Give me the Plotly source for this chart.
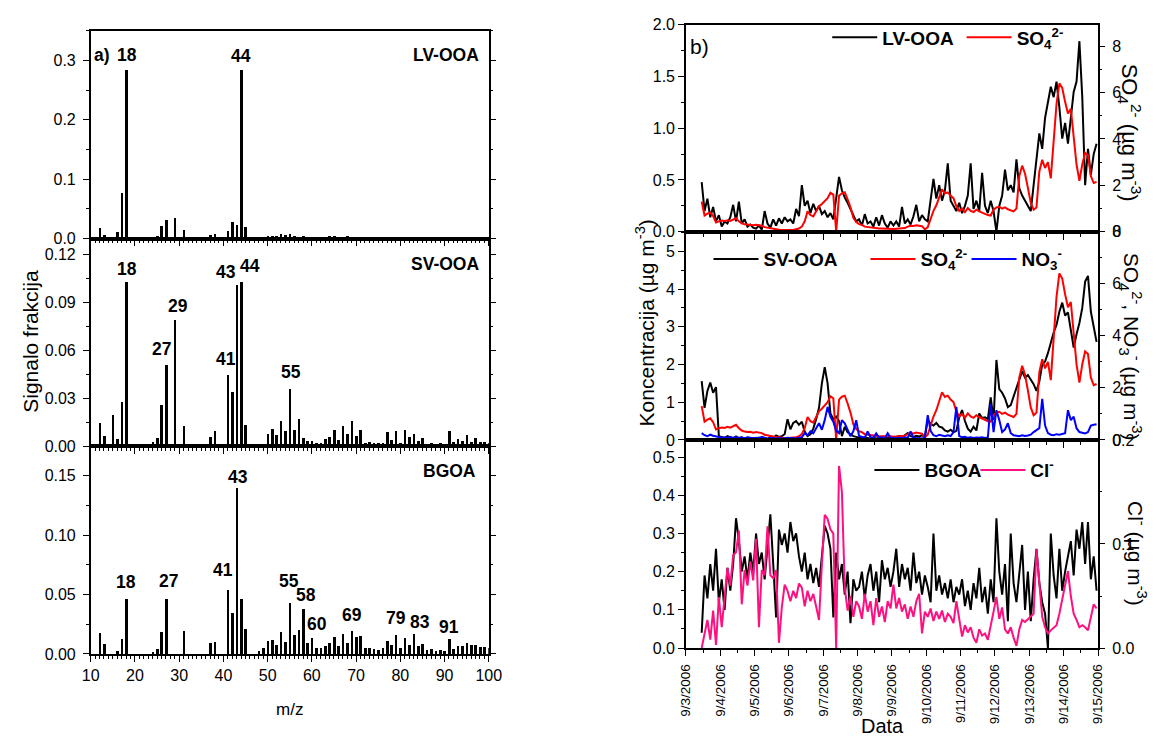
import plotly.graph_objects as go
import pandas as pd

W, H = 1163, 744
FONT = "Arial, Liberation Sans, sans-serif"

# ---------------- mass spectra (m/z 12..100) ----------------
mz = list(range(12, 101))
lv_ooa_ms = [0.018, 0.007, 0, 0, 0.012, 0.077, 0.284, 0, 0, 0,
             0, 0, 0.003, 0.004, 0.021, 0.031, 0, 0.035, 0.001, 0.015,
             0, 0, 0, 0, 0, 0.006, 0.008, 0, 0, 0.013,
             0.028, 0.023, 0.284, 0.020, 0, 0, 0.001, 0.001, 0.005, 0.005,
             0.005, 0.008, 0.006, 0.009, 0.004, 0.001, 0.004, 0.002, 0.003, 0.002,
             0.001, 0.003, 0.004, 0.004, 0.003, 0.001, 0.004, 0.003, 0.002, 0.001,
             0.001, 0.002, 0.002, 0.001, 0.002, 0.002, 0.002, 0.002, 0.001, 0.002,
             0.001, 0.002, 0.001, 0.001, 0.001, 0.002, 0.002, 0.001, 0.002, 0.002,
             0.001, 0.001, 0.001, 0.001, 0.002, 0.002, 0.002, 0.002, 0.002]
sv_ooa_ms = [0.015, 0.0067, 0, 0.020, 0.0045, 0.028, 0.103, 0, 0, 0,
             0, 0, 0.0027, 0.0055, 0.026, 0.051, 0, 0.079, 0.0016, 0.013,
             0, 0, 0, 0, 0, 0.006, 0.0098, 0, 0, 0.0447,
             0.034, 0.101, 0.103, 0.0135, 0, 0, 0.001, 0.0016, 0.008, 0.011,
             0.007, 0.0157, 0.0094, 0.036, 0.0106, 0.017, 0.0055, 0.0037, 0.0035, 0.0022,
             0.002, 0.0047, 0.006, 0.010, 0.0043, 0.0127, 0.0078, 0.0157, 0.0063, 0.0104,
             0.0024, 0.0029, 0.0024, 0.002, 0.0024, 0.009, 0.0043, 0.0096, 0.0024, 0.010,
             0.006, 0.0075, 0.0035, 0.0055, 0.0018, 0.0022, 0.001, 0.002, 0.001, 0.0096,
             0.003, 0.0045, 0.0035, 0.007, 0.003, 0.005, 0.003, 0.003, 0.002]
bgoa_ms = [0.0179, 0.0085, 0, 0, 0.002, 0.0124, 0.046, 0, 0, 0,
           0, 0, 0.0014, 0.004, 0.0187, 0.046, 0, 0, 0, 0.019,
           0, 0, 0, 0, 0, 0.0088, 0.0096, 0, 0, 0.054,
           0.034, 0.1395, 0.046, 0.0206, 0, 0, 0.0025, 0.0047, 0.011, 0.0118,
           0.0074, 0.018, 0.0099, 0.043, 0.0157, 0.020, 0.038, 0.0094, 0.0132, 0.0047,
           0.005, 0.0063, 0.0094, 0.014, 0.0063, 0.0168, 0.009, 0.019, 0.014, 0.0154,
           0.0047, 0.0047, 0.004, 0.003, 0.005, 0.0107, 0.0074, 0.0157, 0.005, 0.0132,
           0.0077, 0.0165, 0.0069, 0.008, 0.0036, 0.0044, 0.0025, 0.003, 0.0022, 0.0124,
           0.0044, 0.0063, 0.0063, 0.009, 0.0074, 0.0072, 0.0058, 0.0058, 0.005]

lv_peaks = [18, 44]
sv_peaks = [18, 27, 29, 41, 43, 44, 55]
bg_peaks = [18, 27, 41, 43, 55, 58, 60, 69, 79, 83, 91]

# ---------------- time series (2-hourly, from 9/3/2006 11:00) ----------------
ts_start = "2006-09-03 11:00"
lv_ooa_ts = [0.48, 0.20, 0.32, 0.14, 0.24, 0.10, 0.16,
             0.05, 0.10, 0.08, 0.14, 0.26, 0.10, 0.29, 0.08, 0.12, 0.05, 0.07, 0.04,
             0.03, 0.06, 0.02, 0.20, 0.08, 0.04, 0.12, 0.06, 0.13, 0.08, 0.14, 0.10,
             0.12, 0.08, 0.22, 0.15, 0.45, 0.25, 0.30, 0.18, 0.27, 0.20, 0.25, 0.17,
             0.20, 0.14, 0.18, 0.12, 0.35, 0.53, 0.40, 0.33, 0.28, 0.22, 0.15, 0.10,
             0.12, 0.06, 0.17, 0.08, 0.10, 0.05, 0.14, 0.06, 0.16, 0.08, 0.04, 0.10,
             0.06, 0.10, 0.05, 0.24, 0.08, 0.12, 0.07, 0.15, 0.26, 0.10, 0.16, 0.12,
             0.10, 0.30, 0.51, 0.32, 0.45, 0.30, 0.40, 0.66, 0.30, 0.25, 0.20, 0.28,
             0.18, 0.25, 0.35, 0.66, 0.22, 0.30, 0.20, 0.57, 0.25, 0.18, 0.30, 0.20,
             0.00, 0.25, 0.35, 0.60, 0.40, 0.45, 0.38, 0.70, 0.42, 0.35, 0.30, 0.25,
             0.20, 0.45, 0.70, 0.95, 0.80, 1.10, 1.25, 1.40, 1.30, 1.45, 1.20, 0.90,
             1.05, 0.85, 1.10, 1.35, 1.45, 1.84, 1.30, 0.45, 0.80, 0.55, 0.75, 0.85]
so4_ts = [1.30, 0.70, 0.78, 0.83, 0.68, 0.40, 0.45,
          0.48, 0.46, 0.50, 0.47, 0.52, 0.58, 0.45, 0.36, 0.32, 0.30, 0.31, 0.28,
          0.30, 0.28, 0.26, 0.20, 0.17, 0.15, 0.13, 0.11, 0.09, 0.08, 0.07, 0.07,
          0.08, 0.08, 0.10, 0.14, 0.22, 0.45, 0.88, 0.72, 0.66, 0.88, 1.10, 1.20,
          1.32, 1.45, 1.68, 1.60, 0.00, 1.55, 1.66, 1.70, 1.40, 1.05, 0.60, 0.42,
          0.33, 0.30, 0.22, 0.20, 0.18, 0.16, 0.15, 0.14, 0.14, 0.13, 0.14, 0.14,
          0.12, 0.13, 0.14, 0.15, 0.16, 0.22, 0.26, 0.25, 0.28, 0.26, 0.24, 0.10,
          0.20, 0.55, 0.90, 1.14, 1.50, 1.83, 1.65, 1.70, 1.55, 1.45, 1.10, 0.90,
          1.00, 0.85, 1.02, 0.90, 0.85, 0.95, 0.88, 0.82, 0.76, 0.72, 0.70, 0.95,
          1.05, 1.08, 1.00, 1.05, 0.97, 0.92, 0.88, 1.00, 2.40, 2.85, 2.50, 1.90,
          1.25, 0.95, 1.05, 2.60, 3.10, 2.75, 3.00, 2.30, 3.90, 5.50, 6.40, 6.20,
          5.60, 5.10, 5.30, 4.00, 2.90, 2.20, 2.90, 3.40, 3.30, 2.40, 2.10, 2.15]
sv_ooa_ts = [1.56, 0.85, 1.30, 1.52, 1.25, 1.40, 0.10,
             0.08, 0.05, 0.10, 0.06, 0.04, 0.09, 0.05, 0.07, 0.03, 0.06, 0.04, 0.05,
             0.04, 0.06, 0.03, 0.05, 0.02, 0.08, 0.05, 0.12, 0.08, 0.10, 0.15, 0.55,
             0.28, 0.45, 0.50, 0.40, 0.48, 0.22, 0.10, 0.15, 0.30, 0.55, 0.85, 1.50,
             1.93, 1.50, 0.70, 0.55, 0.62, 0.50, 0.10, 0.35, 0.20, 0.15, 0.10, 0.08,
             0.06, 0.04, 0.07, 0.05, 0.03, 0.06, 0.04, 0.05, 0.03, 0.06, 0.05, 0.07,
             0.06, 0.08, 0.10, 0.07, 0.12, 0.18, 0.10, 0.08, 0.11, 0.09, 0.12, 0.08,
             0.53, 0.42, 0.38, 0.45, 0.35, 0.33, 0.25, 0.22, 0.27, 0.20, 0.24, 0.60,
             0.79, 0.50, 0.30, 0.22, 0.35, 0.25, 0.70, 0.58, 0.60, 0.55, 1.13, 0.53,
             2.12, 1.35, 1.25, 1.10, 0.87, 0.92, 1.15, 1.40, 1.60, 1.82, 1.65, 1.72,
             1.60, 1.48, 1.30, 1.55, 2.00, 2.08, 2.30, 2.60, 2.85, 3.05, 3.40, 3.64,
             3.30, 3.38, 2.90, 2.45, 2.80, 3.10, 3.50, 4.20, 4.35, 3.40, 3.00, 2.60]
no3_ts = [0.26, 0.18, 0.14, 0.20, 0.16, 0.14, 0.10,
          0.08, 0.10, 0.07, 0.12, 0.08, 0.10, 0.07, 0.09, 0.06, 0.10, 0.07, 0.06,
          0.08, 0.06, 0.12, 0.07, 0.05, 0.08, 0.06, 0.05, 0.07, 0.05, 0.06, 0.08,
          0.06, 0.07, 0.05, 0.08, 0.10, 0.26, 0.18, 0.33, 0.25, 0.45, 0.64, 0.39,
          0.76, 1.27, 0.89, 0.70, 0.35, 0.26, 0.76, 0.64, 0.35, 0.14, 0.33, 0.76,
          0.15, 0.10, 0.08, 0.33, 0.10, 0.07, 0.25, 0.08, 0.10, 0.06, 0.26, 0.08,
          0.07, 0.06, 0.08, 0.06, 0.10, 0.07, 0.33, 0.08, 0.06, 0.07, 0.05, 0.10,
          0.95, 0.35, 0.18, 0.14, 0.20, 0.16, 0.14, 0.18, 0.15, 0.30, 1.27, 0.15,
          0.10, 0.12, 0.08, 0.10, 0.07, 0.09, 0.08, 0.10, 0.07, 0.09, 1.39, 0.30,
          1.14, 0.76, 0.30, 0.40, 0.64, 0.26, 0.18, 0.16, 0.14, 0.18, 0.15, 0.17,
          0.20, 0.30, 0.39, 0.45, 1.58, 0.55, 0.26, 0.20, 0.18, 0.22, 0.20, 0.24,
          0.26, 1.14, 0.76, 0.89, 0.45, 0.30, 0.28, 0.25, 0.30, 0.55, 0.58, 0.60]
bgoa_ts = [0.04, 0.19, 0.13, 0.22, 0.15, 0.26, 0.12,
           0.18, 0.10, 0.21, 0.15, 0.22, 0.34, 0.28, 0.20, 0.24, 0.18, 0.25, 0.20,
           0.30, 0.22, 0.25, 0.18, 0.26, 0.35, 0.22, 0.08, 0.31, 0.27, 0.30, 0.25,
           0.33, 0.28, 0.30, 0.24, 0.20, 0.25, 0.18, 0.22, 0.17, 0.21, 0.16, 0.24,
           0.32, 0.30, 0.26, 0.08, 0.25, 0.18, 0.22, 0.14, 0.20, 0.065, 0.18, 0.15,
           0.16, 0.20, 0.13, 0.19, 0.22, 0.15, 0.20, 0.12, 0.23, 0.18, 0.21, 0.16,
           0.20, 0.26, 0.16, 0.22, 0.18, 0.21, 0.15, 0.25, 0.17, 0.20, 0.14, 0.19,
           0.16, 0.12, 0.30, 0.15, 0.19, 0.14, 0.17, 0.13, 0.18, 0.12, 0.16, 0.14,
           0.18, 0.11, 0.15, 0.10, 0.17, 0.13, 0.21, 0.12, 0.16, 0.09, 0.18, 0.12,
           0.34, 0.20, 0.14, 0.22, 0.07, 0.30, 0.17, 0.12, 0.20, 0.27, 0.10, 0.20,
           0.07, 0.18, 0.26, 0.17, 0.12, 0.09, 0.00, 0.30, 0.19, 0.13, 0.26, 0.15,
           0.20, 0.24, 0.28, 0.19, 0.31, 0.26, 0.33, 0.22, 0.33, 0.18, 0.24, 0.15]
cl_ts = [0.000, 0.012, 0.027, 0.008, 0.036, 0.003, 0.049,
         0.020, 0.047, 0.077, 0.060, 0.089, 0.092, 0.113, 0.042, 0.075, 0.060, 0.083, 0.065,
         0.105, 0.020, 0.075, 0.070, 0.117, 0.070, 0.067, 0.075, 0.005, 0.039, 0.061, 0.055,
         0.045, 0.055, 0.048, 0.062, 0.058, 0.040, 0.055, 0.045, 0.052, 0.040, 0.027, 0.080,
         0.128, 0.124, 0.114, 0.110, 0.000, 0.175, 0.150, 0.058, 0.036, 0.050, 0.030, 0.045,
         0.040, 0.028, 0.052, 0.035, 0.045, 0.022, 0.048, 0.030, 0.040, 0.025, 0.045, 0.038,
         0.061, 0.038, 0.048, 0.035, 0.042, 0.028, 0.040, 0.030, 0.045, 0.052, 0.014, 0.035,
         0.030, 0.038, 0.026, 0.035, 0.028, 0.036, 0.025, 0.033, 0.030, 0.024, 0.045, 0.028,
         0.011, 0.022, 0.015, 0.020, 0.010, 0.005, 0.018, 0.012, 0.014, 0.008, 0.020, 0.035,
         0.049, 0.028, 0.039, 0.018, 0.014, 0.020, 0.010, 0.002, 0.018, 0.027, 0.025, 0.028,
         0.030, 0.033, 0.095, 0.061, 0.030, 0.020, 0.014, 0.017, 0.020, 0.022, 0.033, 0.048,
         0.060, 0.074, 0.050, 0.033, 0.027, 0.020, 0.022, 0.020, 0.017, 0.030, 0.042, 0.038]
date_labels = ["9/3/2006", "9/4/2006", "9/5/2006", "9/6/2006", "9/7/2006",
               "9/8/2006", "9/9/2006", "9/10/2006", "9/11/2006", "9/12/2006",
               "9/13/2006", "9/14/2006", "9/15/2006"]

t = pd.date_range(ts_start, periods=len(lv_ooa_ts), freq="2h")
day_ticks = pd.date_range("2006-09-03", periods=len(date_labels), freq="D")

# ---------------- figure ----------------
fig = go.Figure()


def fy(py):
    return 1 - py / H


LX = [83.3 / W, 489 / W]
RX = [690 / W, 1110 / W]
left_rows = [(23.3, 236), (236, 448.3), (448.3, 661)]
right_rows = [(17, 229), (229, 442), (442, 655)]

# bars
for i, ys in enumerate([lv_ooa_ms, sv_ooa_ms, bgoa_ms]):
    sfx = "" if i == 0 else str(i + 1)
    fig.add_trace(go.Bar(x=mz, y=ys, width=0.6, marker=dict(color="black", line=dict(width=0)),
                         xaxis="x" + sfx, yaxis="y" + sfx, showlegend=False))

# time series
LW = 2.0
fig.add_trace(go.Scatter(x=t, y=lv_ooa_ts, mode="lines", line=dict(color="black", width=LW),
                         xaxis="x4", yaxis="y4", name="<b>LV-OOA</b>", legend="legend"))
fig.add_trace(go.Scatter(x=t, y=so4_ts, mode="lines", line=dict(color="#ff0000", width=LW),
                         xaxis="x4", yaxis="y7", name="<b>SO<sub>4</sub><sup>2-</sup></b>", legend="legend2"))
fig.add_trace(go.Scatter(x=t, y=sv_ooa_ts, mode="lines", line=dict(color="black", width=LW),
                         xaxis="x5", yaxis="y5", name="<b>SV-OOA</b>", legend="legend3"))
fig.add_trace(go.Scatter(x=t, y=so4_ts, mode="lines", line=dict(color="#ff0000", width=LW),
                         xaxis="x5", yaxis="y8", name="<b>SO<sub>4</sub><sup>2-</sup></b>", legend="legend4"))
fig.add_trace(go.Scatter(x=t, y=no3_ts, mode="lines", line=dict(color="#0000ff", width=LW),
                         xaxis="x5", yaxis="y8", name="<b>NO<sub>3</sub><sup>-</sup></b>", legend="legend5"))
fig.add_trace(go.Scatter(x=t, y=bgoa_ts, mode="lines", line=dict(color="black", width=LW),
                         xaxis="x6", yaxis="y6", name="<b>BGOA</b>", legend="legend6"))
fig.add_trace(go.Scatter(x=t, y=cl_ts, mode="lines", line=dict(color="#ff1080", width=LW),
                         xaxis="x6", yaxis="y9", name="<b>Cl<sup>-</sup></b>", legend="legend7"))

tickfont = dict(family=FONT, size=16, color="black")
base_axis = dict(showgrid=False, zeroline=False, showline=True, linecolor="black", linewidth=1.5,
                 ticks="outside", tickcolor="black", tickwidth=1.2, ticklen=6, tickfont=tickfont)
layout = {}

# left x axes
for i, (top, bot) in enumerate(left_rows):
    sfx = "" if i == 0 else str(i + 1)
    layout["xaxis" + sfx] = dict(base_axis, domain=LX, anchor="y" + sfx, range=[10, 100],
                                 tick0=10, dtick=10, mirror=True, showticklabels=(i == 2),
                                 minor=dict(dtick=1, ticklen=3, ticks="outside", tickcolor="black", tickwidth=1))
ylspec = [([0, 0.35], 0.1, 0.05, ".1f"), ([0, 0.13], 0.03, 0.015, ".2f"), ([0, 0.175], 0.05, 0.025, ".2f")]
for i, (top, bot) in enumerate(left_rows):
    sfx = "" if i == 0 else str(i + 1)
    rng, dt, mn, fmt = ylspec[i]
    layout["yaxis" + sfx] = dict(base_axis, domain=[fy(bot), fy(top)], anchor="x" + sfx, range=rng,
                                 tick0=0, dtick=dt, tickformat=fmt, mirror="allticks", ticklabelstandoff=4,
                                 minor=dict(dtick=mn, ticklen=3, ticks="outside", tickcolor="black", tickwidth=1))

# right x axes
for i, (top, bot) in enumerate(right_rows):
    n = 4 + i
    ax = dict(base_axis, domain=RX, anchor="y%d" % n, type="date",
              range=["2006-09-03", "2006-09-15"], tickvals=list(day_ticks), ticktext=date_labels,
              mirror=True, showticklabels=(i == 2), tickangle=-90, ticklabelstandoff=3,
              tickfont=dict(family=FONT, size=13.5, color="black"),
              minor=dict(dtick=12 * 3600 * 1000, ticklen=3, ticks="outside", tickcolor="black", tickwidth=1))
    layout["xaxis%d" % n] = ax
yrspec = [([0, 2.0], 0.5, 0.25, ".1f"), ([0, 5.52], 1, 0.5, "d"), ([0, 0.545], 0.1, 0.05, ".1f")]
for i, (top, bot) in enumerate(right_rows):
    n = 4 + i
    rng, dt, mn, fmt = yrspec[i]
    layout["yaxis%d" % n] = dict(base_axis, domain=[fy(bot), fy(top)], anchor="x%d" % n, range=rng,
                                 tick0=0, dtick=dt, tickformat=fmt, mirror=True,
                                 minor=dict(dtick=mn, ticklen=3, ticks="outside", tickcolor="black", tickwidth=1))
y2spec = [([0, 8.93], 2, 1, "d"), ([0, 8], 2, 1, "d"), ([0, 0.2], 0.1, 0.05, ".1f")]
for i in range(3):
    n = 7 + i
    rng, dt, mn, fmt = y2spec[i]
    layout["yaxis%d" % n] = dict(base_axis, overlaying="y%d" % (4 + i), side="right", anchor="x%d" % (4 + i),
                                 range=rng, tick0=0, dtick=dt, tickformat=fmt, showline=False,
                                 ticklabelstandoff=4,
                                 minor=dict(dtick=mn, ticklen=3, ticks="outside", tickcolor="black", tickwidth=1))

# legends (one per entry)
leg_pos = [(834, 30), (971, 30), (713, 257), (873, 257), (976, 257), (877, 473), (985, 473)]
for k, (lx, ly) in enumerate(leg_pos):
    key = "legend" if k == 0 else "legend%d" % (k + 1)
    layout[key] = dict(x=lx / W, y=fy(ly), xanchor="left", yanchor="middle", orientation="h",
                       bgcolor="rgba(0,0,0,0)", borderwidth=0, itemwidth=45,
                       font=dict(family=FONT, size=19, color="black"))

annotations = []


def ann(x, y, text, size=17, bold=False, xanchor="center", yanchor="middle", angle=0):
    annotations.append(dict(x=x / W, y=fy(y), xref="paper", yref="paper", text=("<b>%s</b>" % text) if bold else text,
                            showarrow=False, xanchor=xanchor, yanchor=yanchor, textangle=angle,
                            font=dict(family=FONT, size=size, color="black")))


# peak labels (data coordinates)
peak_offsets = {
    "": {18: (1, 15), 44: (0, 14)},
    "2": {18: (1, 13), 27: (-4, 16), 29: (3, 14), 41: (-2, 16), 43: (-11, 13), 44: (9, 16), 55: (1, 17)},
    "3": {18: (0, 17), 27: (3, 18), 41: (-5, 20), 43: (1, 11), 55: (-1, 22), 58: (3, 14), 60: (5, 14),
          69: (0, 16), 79: (0, 17), 83: (6, 12), 91: (0, 12)},
}
for sfx, peaks, ys in [("", lv_peaks, lv_ooa_ms), ("2", sv_peaks, sv_ooa_ms), ("3", bg_peaks, bgoa_ms)]:
    for p in peaks:
        dx, dy = peak_offsets[sfx][p]
        annotations.append(dict(x=p, y=ys[mz.index(p)], xref="x" + sfx, yref="y" + sfx, text="<b>%d</b>" % p,
                                showarrow=False, xanchor="center", yanchor="middle", xshift=dx, yshift=dy,
                                font=dict(family=FONT, size=17.5, color="black")))

ann(95, 48, "a)", 17.5, True)
ann(481, 48, "LV-OOA", 17.5, True, xanchor="right")
ann(481, 262, "SV-OOA", 17.5, True, xanchor="right")
ann(478, 474, "BGOA", 17.5, True, xanchor="right")
ann(22, 341, "Signalo frakcija", 21, angle=-90)
ann(286, 718, "m/z", 17)
ann(704, 39, "b)", 21)
ann(648, 322, "Koncentracija (µg m<sup>-3</sup>)", 21, angle=-90)
ann(890, 735, "Data", 20)
ann(1143, 128, "SO<sub>4</sub><sup>2-</sup> (µg m<sup>-3</sup>)", 22, angle=90)
ann(1144, 347, "SO<sub>4</sub><sup>2-</sup>, NO<sub>3</sub><sup>-</sup> (µg m<sup>-3</sup>)", 21, angle=90)
ann(1149, 558, "Cl<sup>-</sup> (µg m<sup>-3</sup>)", 21, angle=90)

fig.update_layout(width=W, height=H, margin=dict(l=0, r=0, t=0, b=0), paper_bgcolor="white",
                  plot_bgcolor="white", annotations=annotations, bargap=0, **layout)

fig.write_html("out.html")
